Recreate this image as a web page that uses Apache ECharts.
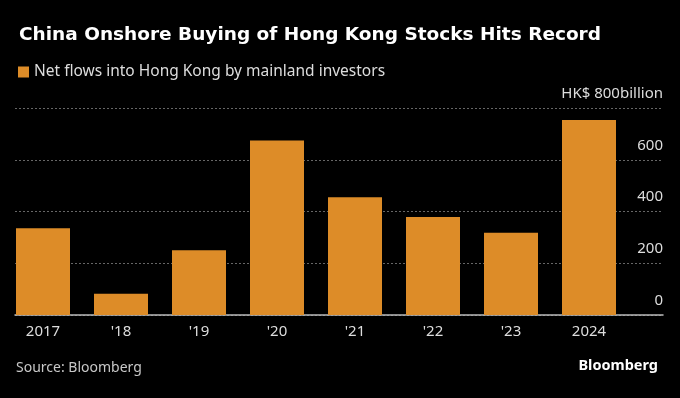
<!DOCTYPE html>
<html>
<head>
<meta charset="utf-8">
<script src="https://cdn.jsdelivr.net/npm/echarts@6/dist/echarts.min.js"></script>
<style>
  html, body { margin: 0; padding: 0; background: #000; }
  #chart { width: 680px; height: 398px; }
</style>
</head>
<body>
<div id="chart"></div>
<script>
var years = ['2017', "'18", "'19", "'20", "'21", "'22", "'23", '2024'];
var netFlows = [335, 82, 250, 674, 455, 379, 318, 754];
var yTicks = [0, 200, 400, 600, 800];

var font = '"Noto Sans", sans-serif';
var myChart = echarts.init(document.getElementById('chart'));
var option = {
  backgroundColor: '#000',
  animation: false,
  title: {
    text: 'China Onshore Buying of Hong Kong Stocks Hits Record',
    left: 14, top: 21,
    textStyle: { color: '#fff', fontSize: 18.5, fontWeight: 'bold', fontFamily: '"DejaVu Sans", sans-serif' }
  },
  legend: {
    left: 13, top: 59,
    icon: 'rect', itemWidth: 11, itemHeight: 11, itemGap: 8,
    textStyle: { color: '#ddd', fontSize: 15.5, fontFamily: font },
    data: ['Net flows into Hong Kong by mainland investors']
  },
  graphic: [
    {
      type: 'text', left: 16, top: 361,
      style: { text: 'Source: Bloomberg', fill: '#c8c8c8', font: '14px ' + font }
    },
    {
      type: 'text', right: 22, top: 358,
      style: { text: 'Bloomberg', fill: '#fff', font: 'bold 14.5px ' + font }
    }
  ],
  grid: [
    // gridlines + right-hand labels
    { left: 15, right: 17, top: 108, bottom: 83 },
    // bars
    { left: 4, right: 52, top: 108, bottom: 83 }
  ],
  xAxis: [
    {
      gridIndex: 0, type: 'category', data: years,
      axisLine: { lineStyle: { color: '#bbb', width: 1.5 } },
      axisTick: { show: false }, axisLabel: { show: false }
    },
    {
      gridIndex: 1, type: 'category', data: years,
      axisLine: { show: false }, axisTick: { show: false },
      axisLabel: { color: '#ddd', fontSize: 15, fontFamily: font, margin: 9 }
    }
  ],
  yAxis: [
    {
      gridIndex: 0, type: 'value', position: 'right',
      min: yTicks[0], max: yTicks[yTicks.length - 1], interval: 200,
      axisLine: { show: false }, axisTick: { show: false },
      splitLine: { lineStyle: { color: '#666', type: [2, 2] } },
      axisLabel: {
        inside: true, margin: 0, color: '#ddd', fontSize: 15, fontFamily: font,
        verticalAlign: 'bottom', padding: [0, 0, 7, 0],
        formatter: function (v) { return v === 800 ? 'HK$ 800billion' : v; }
      }
    },
    {
      gridIndex: 1, type: 'value',
      min: yTicks[0], max: yTicks[yTicks.length - 1], interval: 200,
      show: false, splitLine: { show: false }
    }
  ],
  series: [
    {
      name: 'Net flows into Hong Kong by mainland investors',
      type: 'bar', xAxisIndex: 1, yAxisIndex: 1,
      data: netFlows, barWidth: 54,
      itemStyle: { color: '#dd8c28' }
    }
  ]
};
myChart.setOption(option);
</script>
</body>
</html>
